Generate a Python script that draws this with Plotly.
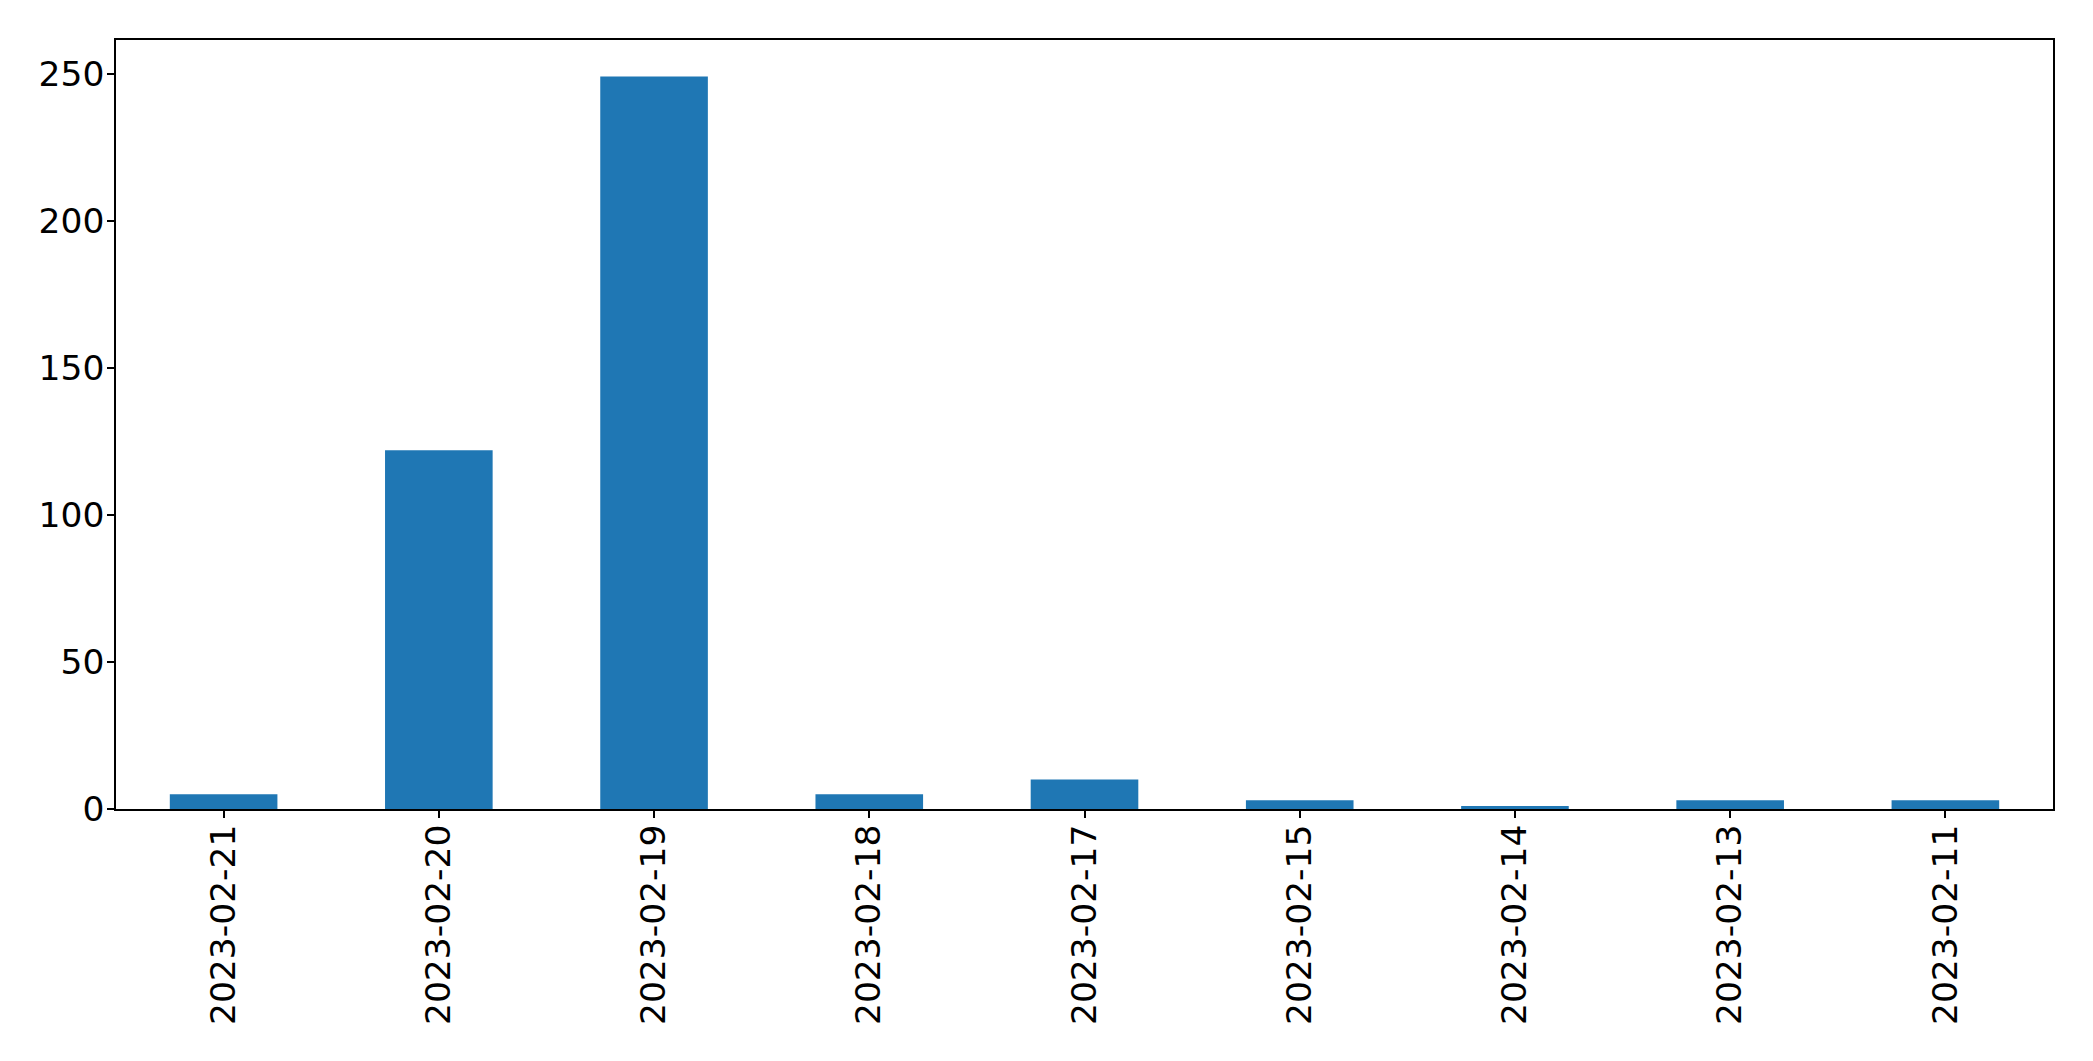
import plotly.graph_objects as go

dates = ["2023-02-21", "2023-02-20", "2023-02-19", "2023-02-18", "2023-02-17",
         "2023-02-15", "2023-02-14", "2023-02-13", "2023-02-11"]
counts = [5, 122, 249, 5, 10, 3, 1, 3, 3]

fig = go.Figure(go.Bar(x=dates, y=counts, width=0.5, marker=dict(color="#1f77b4", line=dict(width=0))))

# page body has an 8px default margin, so the figure is shifted; compensate
fig.update_layout(
    width=2077, height=1045,
    margin=dict(l=108, r=32, t=32, b=244, autoexpand=False),
    plot_bgcolor="white", paper_bgcolor="white",
    font=dict(family="DejaVu Sans", size=34.5, color="black"),
    showlegend=False,
    bargap=0.5,
)
fig.update_xaxes(
    type="category", range=[-0.5, 8.5], automargin=False,
    showline=True, linecolor="black", linewidth=1.5, mirror=True,
    ticks="outside", ticklen=7, tickwidth=1.5, tickcolor="black",
    tickangle=-90, showgrid=False, zeroline=False,
    ticklabelstandoff=-7,
)
fig.update_yaxes(
    range=[0, 261.45], tickvals=[0, 50, 100, 150, 200, 250], automargin=False,
    showline=True, linecolor="black", linewidth=1.5, mirror=True,
    ticks="outside", ticklen=7, tickwidth=1.5, tickcolor="black",
    showgrid=False, zeroline=False, ticklabelstandoff=-4,
)

fig.write_html("out.html")
